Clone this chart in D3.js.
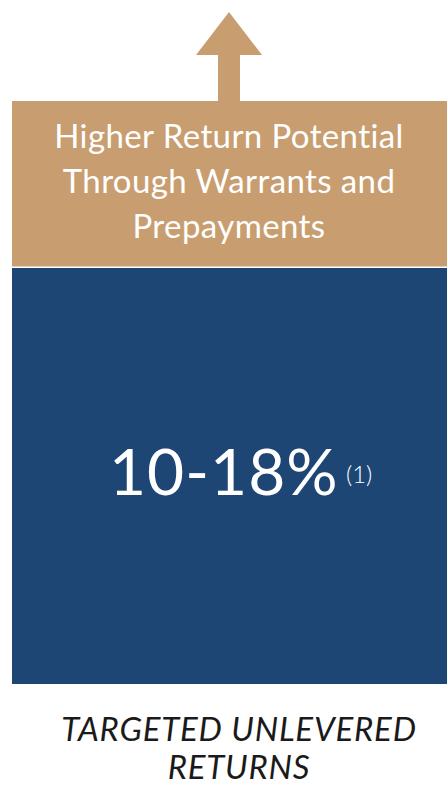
<!DOCTYPE html>
<html>
<head>
<meta charset="utf-8">
<script src="https://cdn.jsdelivr.net/npm/d3@7"></script>
<style>
  body { margin: 0; background: #fff; }
  svg { display: block; }
</style>
</head>
<body>
<div id="viz"></div>
<script>
// segments stacked from the bottom (relative heights)
var segments = ["Targeted returns", "Upside"];
var segmentSizes = [416, 167];
var segmentColors = ["#1E4675", "#C89E70"];
var upsideLines = ["Higher Return Potential", "Through Warrants and", "Prepayments"];
var mainLabel = "10-18%";
var footnote = "(1)";
var captionLines = ["TARGETED UNLEVERED", "RETURNS"];

var width = 448, height = 794;
var svg = d3.select("#viz").append("svg").attr("width", width).attr("height", height);

// cumulative stack
var stacked = [];
var acc = 0;
segmentSizes.forEach(function (v, i) {
    stacked.push({ name: segments[i], y0: acc, y1: acc + v, color: segmentColors[i] });
    acc += v;
});

var y = d3.scaleLinear().domain([0, acc]).range([684, 101]);
var x = d3.scaleBand().domain(["col"]).range([12, 447]).padding(0);

svg.selectAll("rect.seg")
    .data(stacked)
    .enter().append("rect")
    .attr("class", "seg")
    .attr("x", x("col"))
    .attr("width", x.bandwidth())
    .attr("y", function (d) { return y(d.y1); })
    .attr("height", function (d, i) { return y(d.y0) - y(d.y1) - (i == 0 ? 0 : 1.5); })
    .attr("fill", function (d) { return d.color; });

// arrow on top
var upSeg = stacked[stacked.length - 1];
var cx = x("col") + x.bandwidth() / 2 - 0.5;
var by = y(upSeg.y1);
var arrow = [
    [cx - 11, by], [cx - 11, by - 46], [cx - 33, by - 46], [cx, by - 89],
    [cx + 33, by - 46], [cx + 11, by - 46], [cx + 11, by]
];
svg.append("path")
    .attr("d", d3.line()(arrow) + "Z")
    .attr("fill", upSeg.color);

// upside text
var upMid = (y(upSeg.y0) + y(upSeg.y1)) / 2;
svg.append("text")
    .attr("text-anchor", "middle")
    .attr("fill", "#fff")
    .style("font-family", "Lato, 'Open Sans', sans-serif")
    .style("font-weight", 400)
    .style("font-size", "33px")
    .style("letter-spacing", "0.4px")
    .selectAll("tspan")
    .data(upsideLines)
    .enter().append("tspan")
    .attr("x", cx)
    .attr("y", function (d, i) { return upMid - 37 + i * 45; })
    .text(function (d) { return d; });

// main label
var base = stacked[0];
var mid = (y(base.y0) + y(base.y1)) / 2;
svg.append("text")
    .attr("x", 109)
    .attr("y", mid + 19)
    .attr("fill", "#fff")
    .style("font-family", "Lato, 'Open Sans', sans-serif")
    .style("font-size", "64px")
    .style("letter-spacing", "1px")
    .text(mainLabel);
svg.append("text")
    .attr("x", 346)
    .attr("y", mid + 7)
    .attr("fill", "#fff")
    .style("font-family", "Lato, 'Open Sans', sans-serif")
    .style("font-weight", 300)
    .style("font-size", "24px")
    .text(footnote);

// caption
svg.append("text")
    .attr("text-anchor", "middle")
    .attr("fill", "#1a1a1a")
    .style("font-family", "Lato, 'Open Sans', sans-serif")
    .style("font-style", "italic")
    .style("font-size", "33px")
    .style("letter-spacing", "0.8px")
    .selectAll("tspan")
    .data(captionLines)
    .enter().append("tspan")
    .attr("x", 239)
    .attr("y", function (d, i) { return 741 + i * 38; })
    .text(function (d) { return d; });
</script>
</body>
</html>
